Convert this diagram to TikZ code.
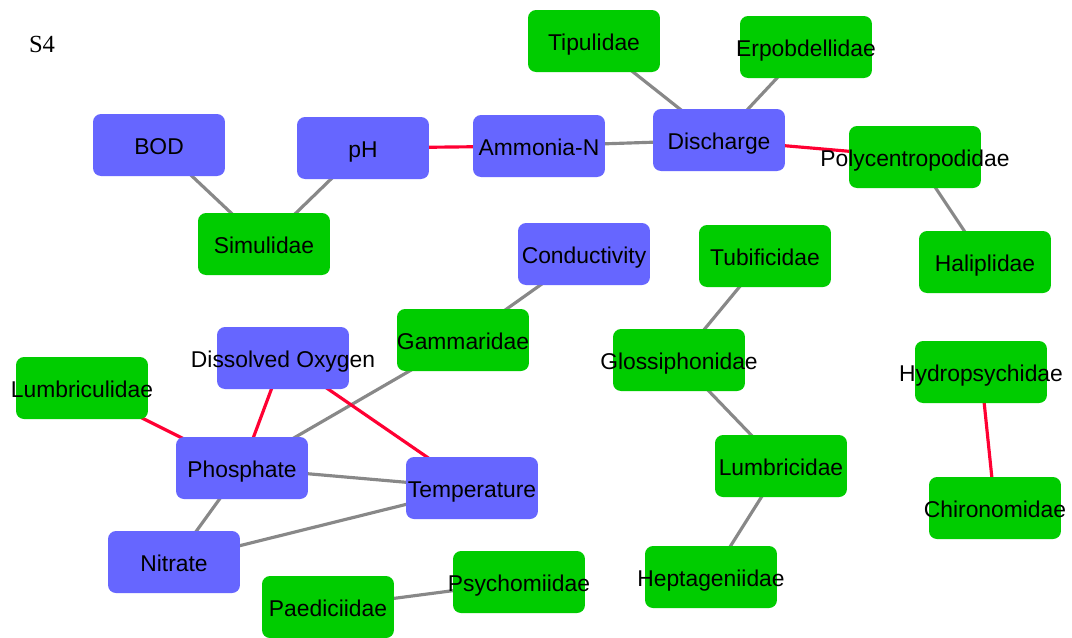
\documentclass[tikz,border=0pt]{standalone}
\usepackage{fontspec}
\setmainfont{Liberation Sans}
\newfontfamily\tagfont{Liberation Serif}
\usetikzlibrary{backgrounds}
\definecolor{varblue}{RGB}{102,102,255}
\definecolor{taxgreen}{RGB}{0,204,0}
\definecolor{negred}{RGB}{255,0,51}
\definecolor{linkgrey}{RGB}{136,136,136}

\begin{document}
\begin{tikzpicture}[x=0.02cm, y=-0.02cm,
    box/.style={rounded corners=0.16cm, minimum width=2.64cm, minimum height=1.24cm,
        inner sep=0pt, text height=0.36cm, text depth=0cm, font=\fontsize{13}{15}\selectfont},
    var/.style={box, fill=varblue},
    taxon/.style={box, fill=taxgreen},
    greylink/.style={linkgrey, line width=1.8pt},
    redlink/.style={negred, line width=1.8pt}]
    \useasboundingbox (0,0) rectangle (1072,637);
    \node[font=\tagfont\fontsize{14}{16}\selectfont] (tag) at (42,44) {S4};
    % environmental variables
    \node[var] (bod) at (159,145) {\makebox[0pt]{BOD}};
    \node[var] (ph) at (363,148) {\makebox[0pt]{pH}};
    \node[var] (amm) at (539,146) {\makebox[0pt]{Ammonia-N}};
    \node[var] (dis) at (719,140) {\makebox[0pt]{Discharge}};
    \node[var] (cond) at (584,254) {\makebox[0pt]{Conductivity}};
    \node[var] (do) at (283,358) {\makebox[0pt]{Dissolved Oxygen}};
    \node[var] (phos) at (242,468) {\makebox[0pt]{Phosphate}};
    \node[var] (temp) at (472,488) {\makebox[0pt]{Temperature}};
    \node[var] (nit) at (174,562) {\makebox[0pt]{Nitrate}};
    % taxa
    \node[taxon] (sim) at (264,244) {\makebox[0pt]{Simulidae}};
    \node[taxon] (tip) at (594,41) {\makebox[0pt]{Tipulidae}};
    \node[taxon] (erp) at (806,47) {\makebox[0pt]{Erpobdellidae}};
    \node[taxon] (poly) at (915,157) {\makebox[0pt]{Polycentropodidae}};
    \node[taxon] (hal) at (985,262) {\makebox[0pt]{Haliplidae}};
    \node[taxon] (tub) at (765,256) {\makebox[0pt]{Tubificidae}};
    \node[taxon] (gam) at (463,340) {\makebox[0pt]{Gammaridae}};
    \node[taxon] (glo) at (679,360) {\makebox[0pt]{Glossiphonidae}};
    \node[taxon] (hyd) at (981,372) {\makebox[0pt]{Hydropsychidae}};
    \node[taxon] (lbc) at (82,388) {\makebox[0pt]{Lumbriculidae}};
    \node[taxon] (lbr) at (781,466) {\makebox[0pt]{Lumbricidae}};
    \node[taxon] (chi) at (995,508) {\makebox[0pt]{Chironomidae}};
    \node[taxon] (psy) at (519,582) {\makebox[0pt]{Psychomiidae}};
    \node[taxon] (pae) at (328,607) {\makebox[0pt]{Paediciidae}};
    \node[taxon] (hep) at (711,577) {\makebox[0pt]{Heptageniidae}};
    \begin{pgfonlayer}{background}
        \fill[white] (0,0) rectangle (1072,637);
        % grey links
        \draw[greylink] (bod.center) -- (sim.center);
        \draw[greylink] (ph.center) -- (sim.center);
        \draw[greylink] (amm.center) -- (dis.center);
        \draw[greylink] (dis.center) -- (tip.center);
        \draw[greylink] (dis.center) -- (erp.center);
        \draw[greylink] (poly.center) -- (hal.center);
        \draw[greylink] (cond.center) -- (gam.center);
        \draw[greylink] (gam.center) -- (phos.center);
        \draw[greylink] (phos.center) -- (temp.center);
        \draw[greylink] (phos.center) -- (nit.center);
        \draw[greylink] (nit.center) -- (temp.center);
        \draw[greylink] (pae.center) -- (psy.center);
        \draw[greylink] (tub.center) -- (glo.center);
        \draw[greylink] (glo.center) -- (lbr.center);
        \draw[greylink] (lbr.center) -- (hep.center);
        % red links
        \draw[redlink] (ph.center) -- (amm.center);
        \draw[redlink] (dis.center) -- (poly.center);
        \draw[redlink] (lbc.center) -- (phos.center);
        \draw[redlink] (do.center) -- (phos.center);
        \draw[redlink] (do.center) -- (temp.center);
        \draw[redlink] (hyd.center) -- (chi.center);
    \end{pgfonlayer}
\end{tikzpicture}
\end{document}
